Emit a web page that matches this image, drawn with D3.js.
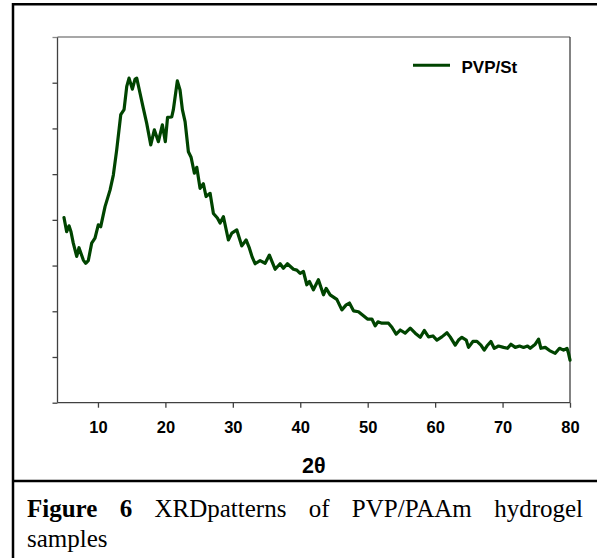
<!DOCTYPE html>
<html>
<head>
<meta charset="utf-8">
<script src="https://cdn.jsdelivr.net/npm/d3@7"></script>
<style>
  html, body { margin: 0; padding: 0; background: #fff; }
  svg { display: block; }
</style>
</head>
<body>
<svg id="chart" width="597" height="558"></svg>
<script>
// ---- data ----
const twoTheta = [4.96,5.36,5.71,6.00,6.34,6.85,7.19,7.83,8.18,8.57,9.07,9.56,10.05,10.41,11.05,11.79,12.28,12.78,13.38,13.87,14.27,14.61,15.10,15.50,15.75,16.24,16.73,17.23,17.83,18.36,18.96,19.55,19.99,20.32,20.94,21.18,21.77,22.17,22.52,22.92,23.41,23.81,24.30,24.65,25.14,25.63,26.03,26.63,27.12,27.71,28.11,28.60,29.34,29.85,30.59,31.33,31.97,32.46,32.86,33.30,34.04,34.79,35.42,36.27,37.01,37.50,38.09,38.99,39.49,39.98,40.47,40.97,41.36,41.95,42.69,43.44,43.84,44.43,45.42,46.17,46.81,47.29,47.89,48.63,49.37,49.96,50.62,51.11,51.51,52.10,53.08,53.59,54.22,54.82,55.56,56.31,57.05,57.79,58.39,59.02,59.67,60.26,61.00,61.75,62.23,62.98,63.47,63.97,64.61,64.95,65.60,66.20,66.79,67.28,67.68,68.27,68.76,69.40,70.14,70.74,71.24,71.88,72.52,73.11,73.70,74.10,74.85,75.34,75.69,76.33,76.97,77.81,78.45,79.04,79.55,79.78,80.0];
const intensity = [405,374,387,374,349,320,339,312,305,311,349,360,389,385,429,465,498,553,630,641,692,710,686,708,710,677,644,611,564,597,571,608,571,624,625,641,704,684,641,615,549,537,502,515,469,479,451,458,414,404,393,407,356,371,378,343,356,338,319,304,311,305,323,292,304,294,304,292,290,283,287,258,265,247,269,236,250,236,226,203,214,218,201,199,190,183,183,168,177,174,174,165,150,159,152,163,152,143,158,144,146,137,144,153,144,126,137,143,137,121,134,134,126,115,124,134,119,124,121,119,128,121,124,121,124,119,128,139,119,121,114,108,119,115,119,108,93];
const xTicks = [10, 20, 30, 40, 50, 60, 70, 80];
const yTicks = [0, 100, 200, 300, 400, 500, 600, 700, 800];
const seriesName = "PVP/St";
const xLabel = "2θ";
const captionBold = ["Figure", "6"];
const captionWords = ["XRDpatterns", "of", "PVP/PAAm", "hydrogel"];
const captionLine2 = "samples";

// ---- layout ----
const svg = d3.select("#chart");
const pL = 57.5, pR = 570, pT = 37, pB = 402.7;
const x = d3.scaleLinear().domain([4, 80]).range([pL, pR]);
const y = d3.scaleLinear().domain([0, 800]).range([pB, pT]);
const axisColor = "#404040";
const sans = "'Liberation Sans', Arial, sans-serif";
const serif = "'Liberation Serif', 'Times New Roman', serif";

// outer frame
const frame = svg.append("g").attr("stroke", "#000").attr("stroke-width", 2.5);
frame.append("line").attr("x1", 13).attr("x2", 13).attr("y1", 3).attr("y2", 558);
frame.append("line").attr("x1", 12).attr("x2", 597).attr("y1", 4.2).attr("y2", 4.2);
frame.append("line").attr("x1", 12).attr("x2", 597).attr("y1", 481).attr("y2", 481);

// plot frame: top (light grey) and right
svg.append("line").attr("x1", pL).attr("x2", pR).attr("y1", pT).attr("y2", pT)
  .attr("stroke", "#8a8a8a").attr("stroke-width", 1.3);
svg.append("line").attr("x1", pR).attr("x2", pR).attr("y1", pT).attr("y2", pB)
  .attr("stroke", axisColor).attr("stroke-width", 1.3);

// y axis (ticks, no labels)
const yAxis = svg.append("g").attr("transform", `translate(${pL},0)`)
  .call(d3.axisLeft(y).tickValues(yTicks).tickSize(5).tickFormat(""));
yAxis.selectAll("path, line").attr("stroke", axisColor).attr("stroke-width", 1.3);
yAxis.select(".domain").attr("d", `M0,${pT}V${pB}`);
yAxis.selectAll(".tick").filter(d => d === 800).select("line").attr("stroke", "#8a8a8a");

// x axis
const xAxis = svg.append("g").attr("transform", `translate(0,${pB})`)
  .call(d3.axisBottom(x).tickValues(xTicks).tickSize(5).tickPadding(14).tickFormat(d3.format("d")));
xAxis.selectAll("path, line").attr("stroke", axisColor).attr("stroke-width", 1.3);
xAxis.select(".domain").attr("d", `M${pL},0H${pR}`);
xAxis.selectAll("text").attr("font-family", sans).attr("font-weight", "bold")
  .attr("font-size", 16.5).attr("fill", "#000");

// x label
svg.append("text").attr("x", (pL + pR) / 2).attr("y", 473)
  .attr("text-anchor", "middle").attr("font-family", sans).attr("font-weight", "bold")
  .attr("font-size", 21.5).attr("fill", "#000").text(xLabel);

// curve
const pts = twoTheta.map((t, i) => [t, intensity[i]]);
svg.append("path").datum(pts)
  .attr("fill", "none").attr("stroke", "#004400").attr("stroke-width", 3.2)
  .attr("stroke-linejoin", "round").attr("stroke-linecap", "round")
  .attr("d", d3.line().x(d => x(d[0])).y(d => y(d[1])));

// legend
svg.append("line").attr("x1", 413).attr("x2", 450).attr("y1", 65.3).attr("y2", 65.3)
  .attr("stroke", "#004400").attr("stroke-width", 3);
svg.append("text").attr("x", 461.5).attr("y", 72.5)
  .attr("font-family", sans).attr("font-weight", "bold").attr("font-size", 17)
  .attr("fill", "#000").text(seriesName);

// caption (justified first line)
const capSize = 25;
const words = captionBold.map(w => ({ w, b: true })).concat(captionWords.map(w => ({ w, b: false })));
const capG = svg.append("g");
const nodes = words.map(o => capG.append("text").attr("y", 517)
  .attr("font-family", serif).attr("font-size", capSize)
  .attr("font-weight", o.b ? "bold" : "normal").attr("fill", "#000").text(o.w));
const widths = nodes.map(n => n.node().getComputedTextLength());
const x0 = 27, x1 = 583;
const gap = (x1 - x0 - d3.sum(widths)) / (words.length - 1);
let cx = x0;
nodes.forEach((n, i) => { n.attr("x", cx); cx += widths[i] + gap; });
svg.append("text").attr("x", x0).attr("y", 547)
  .attr("font-family", serif).attr("font-size", capSize).attr("fill", "#000").text(captionLine2);
</script>
</body>
</html>
